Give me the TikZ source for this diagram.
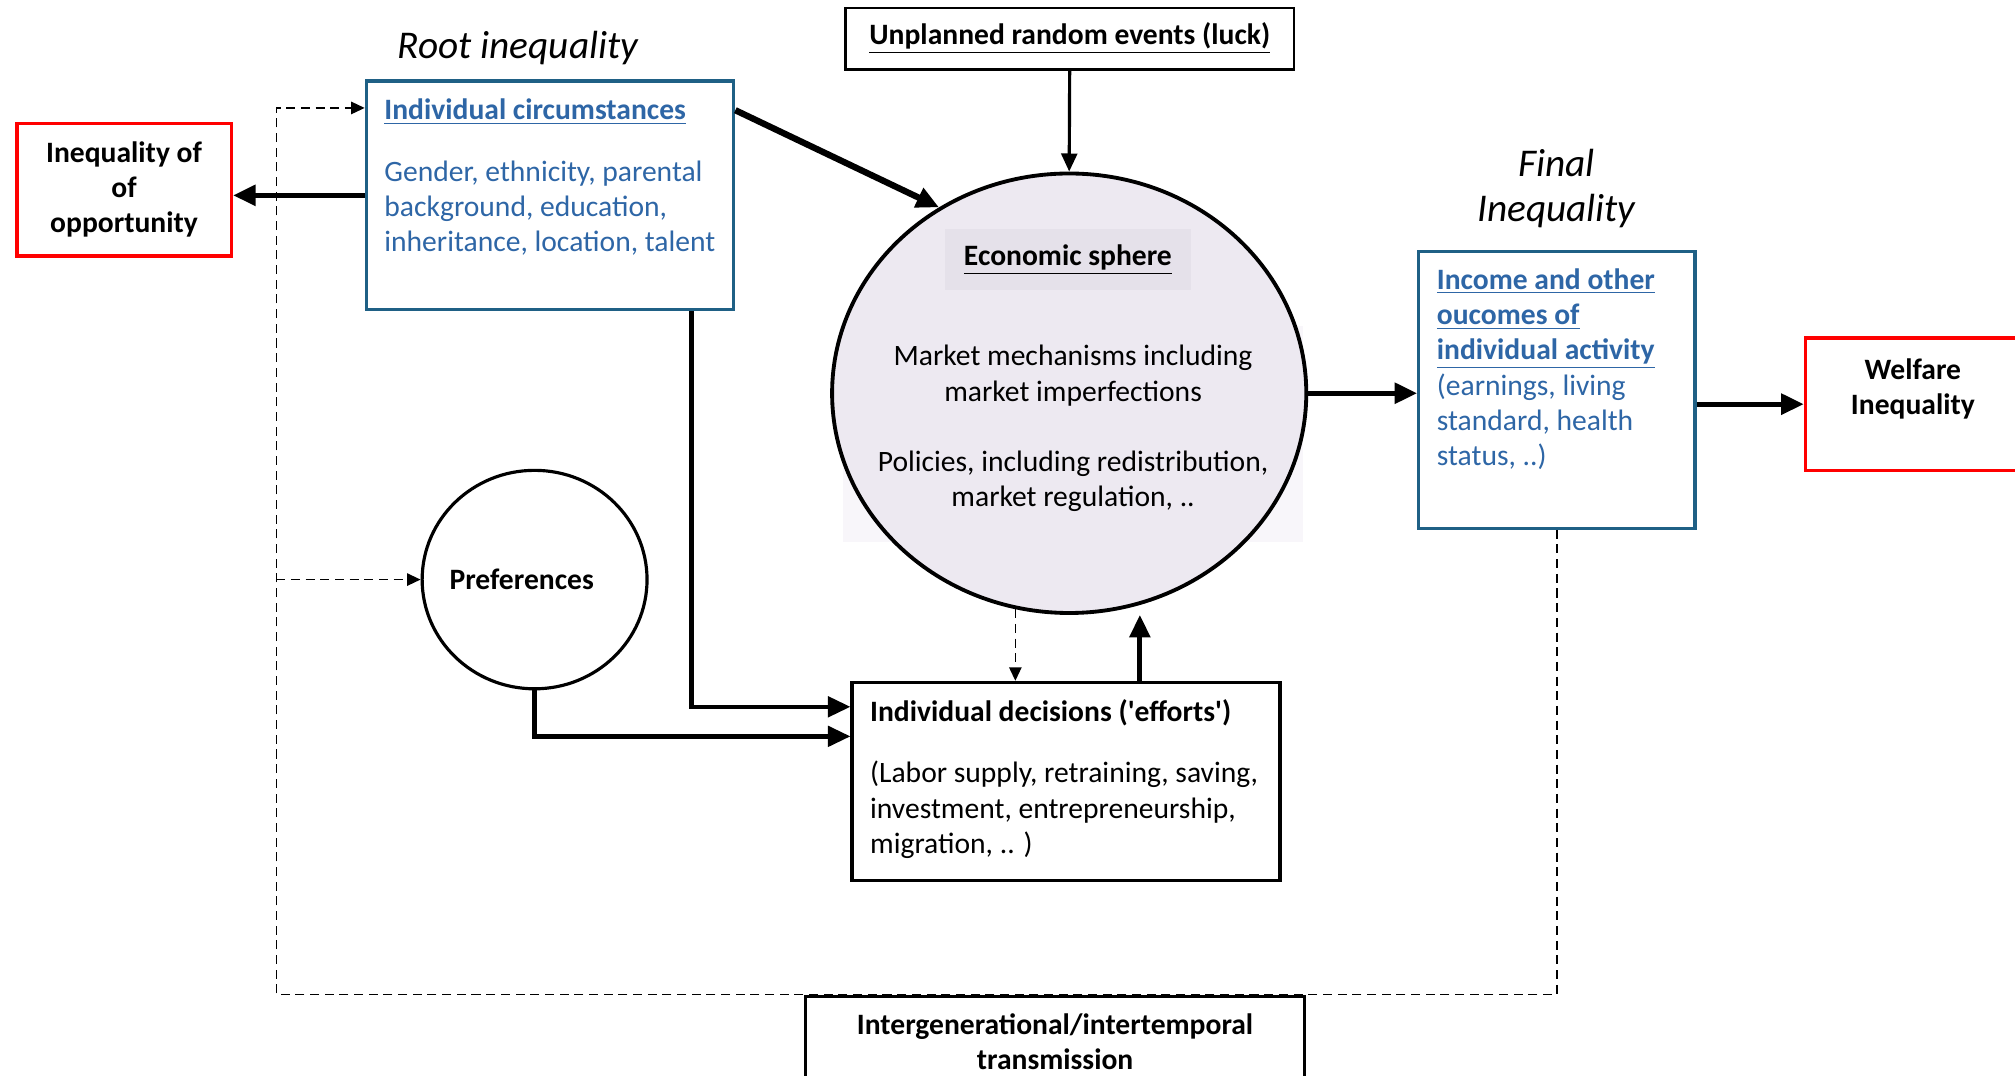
\documentclass[tikz,border=0pt]{standalone}
\usepackage{fontspec}
\setmainfont{Carlito}
\usetikzlibrary{positioning, shapes.geometric, arrows.meta, calc}
\definecolor{boxblue}{HTML}{1F6085}
\definecolor{txtblue}{HTML}{2E66A6}
\definecolor{ecofill}{HTML}{EDE9F1}
\definecolor{ecohead}{HTML}{E5E1EA}
\definecolor{ecoback}{HTML}{F8F6FA}
\newcommand{\bodysize}{\fontsize{13.1pt}{15.6pt}\selectfont}
\newcommand{\titlesize}{\fontsize{17.4pt}{19.9pt}\selectfont}

\begin{document}
\begin{tikzpicture}[
  every node/.style={font=\bodysize, inner sep=0pt},
  rednode/.style={
    draw=red, line width=1.6pt, minimum width=3.34cm,
    minimum height=2.06cm, font=\bodysize\bfseries, align=center
  },
  bluenode/.style={draw=boxblue, line width=1.4pt},
  blacknode/.style={draw=black, line width=1.4pt},
  bluetext/.style={text=txtblue, align=left, anchor=north west},
  title/.style={font=\titlesize\itshape, align=center},
  arrow/.style={-{Triangle[length=10pt, width=9pt]}, line width=2.2pt},
  thinarrow/.style={-{Triangle[length=8pt, width=7pt]}, line width=1.4pt},
  dasharrow/.style={-{Triangle[length=6pt, width=5.5pt]}, line width=0.7pt,
    dash pattern=on 4pt off 2.5pt}
]
\useasboundingbox (0,0) rectangle (31.36,-16.74);

\fill[ecoback] (13.12,-5.08) rectangle (20.28,-8.44);

\node[title] (root) at (8.06,-0.74) {Root inequality};
\node[blacknode, line width=1pt, minimum width=6.98cm, minimum height=0.96cm,
  font=\bodysize\bfseries] (luck) at (16.65,-0.6) {\underline{Unplanned random events (luck)}};

\node[bluenode, minimum width=5.72cm, minimum height=3.56cm] (circ) at (8.56,-3.04) {};
\node[bluetext] (circtxt) at ([xshift=0.3cm, yshift=-0.3cm]circ.north west)
  {\textbf{\underline{Individual circumstances}}\\[0.41cm]Gender, ethnicity, parental\\background,  education,\\inheritance, location, talent};
\node[rednode] (opp) at (1.93,-2.95) {Inequality of\\of\\opportunity};

\node[ellipse, draw, line width=1.7pt, fill=ecofill, minimum width=7.38cm,
  minimum height=6.84cm] (eco) at (16.64,-6.12) {};
\node[fill=ecohead, minimum width=3.84cm, minimum height=0.94cm,
  font=\bodysize\bfseries] (ecohd) at (16.62,-4.04) {\underline{Economic sphere}};
\node[align=center] (ecotxt) at (16.7,-6.67)
  {Market mechanisms including\\market imperfections\\[15.6pt]Policies, including redistribution,\\market regulation, ..};

\node[title] (final) at (24.22,-2.94) {Final\\Inequality};
\node[bluenode, minimum width=4.3cm, minimum height=4.3cm] (inc) at (24.23,-6.07) {};
\node[bluetext] (inctxt) at ([xshift=0.3cm, yshift=-0.28cm]inc.north west)
  {\textbf{\underline{Income and other}}\\\textbf{\underline{oucomes of}}\\\textbf{\underline{individual activity}}\\(earnings, living\\standard, health\\status, ..)};
\node[rednode] (wel) at (29.77,-6.29) {Welfare\\Inequality\\~};

\node[ellipse, draw, line width=1.4pt, minimum width=3.5cm, minimum height=3.4cm] (pref) at (8.32,-9.02) {};
\node[font=\bodysize\bfseries] (preftxt) at ([xshift=-0.2cm]pref.center) {Preferences};

\node[blacknode, minimum width=6.66cm, minimum height=3.08cm] (dec) at (16.59,-12.16) {};
\node[anchor=north west, align=left] (dectxt) at ([xshift=0.3cm, yshift=-0.28cm]dec.north west)
  {\textbf{Individual decisions (\textquotesingle efforts\textquotesingle)}\\[0.41cm](Labor supply, retraining, saving,\\investment, entrepreneurship,\\migration, .. )};

\node[blacknode, anchor=north, minimum width=7.76cm, minimum height=1.42cm,
  font=\bodysize\bfseries, align=center] (gen) at (16.42,-15.48) {Intergenerational/intertemporal\\transmission};

\draw[arrow] (circ.west) -- (circ.west -| opp.east);
\draw[arrow, line width=2.8pt] ([yshift=-0.48cm]circ.north east) -- (eco.125);
\draw[thinarrow] (luck) -- (eco.north);
\draw[arrow, line width=1.9pt] ([xshift=2.2cm]circ.south) |- ([yshift=1.16cm]dec.west);
\draw[arrow, line width=1.9pt] (pref.south) |- ([yshift=0.7cm]dec.west);
\draw[dasharrow] (eco.256) -- (eco.256 |- dec.north);
\draw[arrow] ([xshift=1.15cm]dec.north) -- ([xshift=1.15cm]dec.north |- eco.south);
\draw[arrow] (eco.east) -- (eco.east -| inc.west);
\draw[arrow] (wel.west -| inc.east) -- (wel.west);

\coordinate (loop) at (4.3,-15.48);
\draw[dasharrow] (inc.south) |- (loop) |- ([yshift=1.36cm]circ.west);
\draw[dasharrow] (loop |- pref.west) -- (pref.west);

\end{tikzpicture}
\end{document}
